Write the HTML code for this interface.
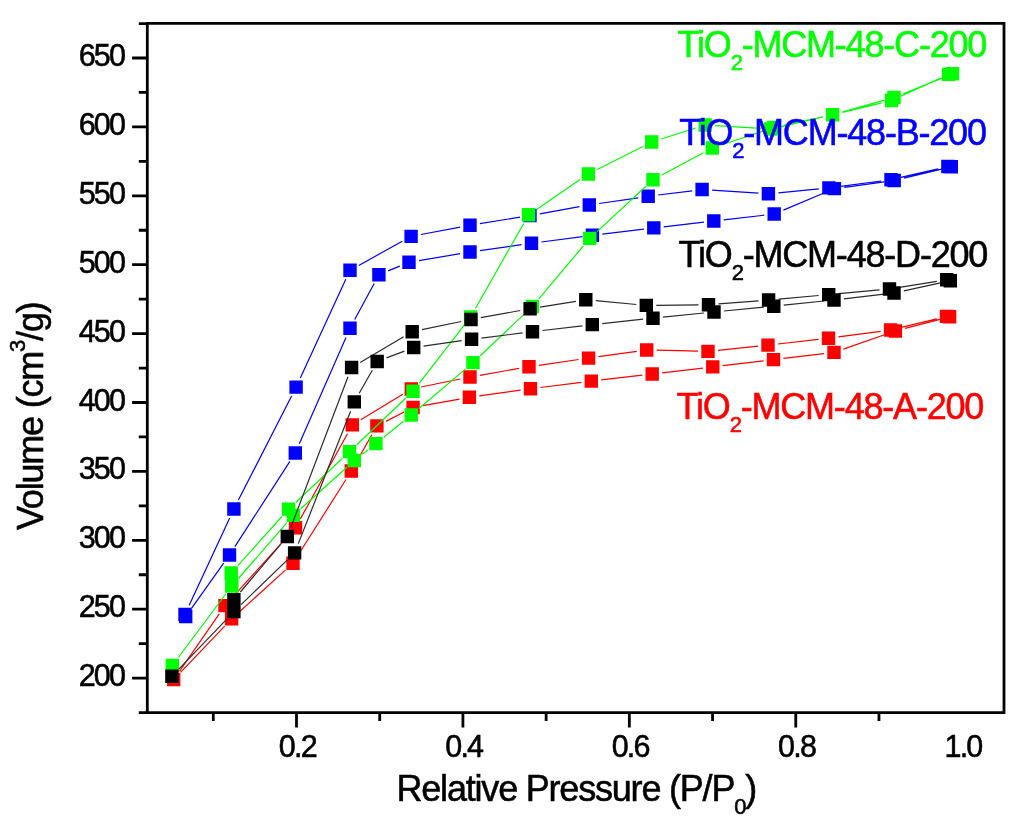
<!DOCTYPE html><html><head><meta charset="utf-8"><style>
html,body{margin:0;padding:0;background:#fff;}
body{width:1024px;height:834px;overflow:hidden;position:relative;}
svg{position:absolute;left:0;top:0;will-change:transform;}
text{font-family:"Liberation Sans",sans-serif;stroke-width:0.55px;paint-order:stroke;}
</style></head><body>
<svg width="1024" height="834" viewBox="0 0 1024 834">
<path d="M191.5 608.4L223.7 563.1M234.9 546.6L289.9 461.4M299.3 443.8L346.0 337.5M354.7 319.5L374.2 283.5M388.1 270.9L399.8 266.1M418.9 260.6L460.1 253.7M479.9 250.6L521.6 244.7M541.4 242.0L582.5 236.6M602.3 234.1L643.9 229.1M663.7 226.8L703.9 222.1M723.7 219.8L764.3 215.2M783.4 210.1L825.2 192.5M844.3 187.3L884.3 181.8M903.9 178.2L941.6 169.1M938.2 168.8L900.7 177.4M881.1 181.0L838.8 186.6M818.9 188.9L778.4 192.8M758.4 193.2L712.1 190.1M692.2 190.8L658.1 195.0M638.3 197.8L599.2 203.5M579.5 206.7L539.8 213.8M520.1 217.1L479.9 223.6M460.2 227.1L420.9 234.5M402.3 241.2L358.8 265.4M345.8 279.3L300.3 378.0M291.6 396.0L238.4 500.1M229.7 518.1L189.2 605.3" stroke="#0000ff" stroke-width="1.20" fill="none" stroke-linecap="butt"/>
<path d="M179.00 609.80h13.40v13.40h-13.40zM222.80 548.30h13.40v13.40h-13.40zM288.60 446.30h13.40v13.40h-13.40zM343.30 321.60h13.40v13.40h-13.40zM372.20 268.00h13.40v13.40h-13.40zM402.30 255.60h13.40v13.40h-13.40zM463.30 245.30h13.40v13.40h-13.40zM524.80 236.60h13.40v13.40h-13.40zM585.70 228.60h13.40v13.40h-13.40zM647.10 221.20h13.40v13.40h-13.40zM707.10 214.30h13.40v13.40h-13.40zM767.50 207.30h13.40v13.40h-13.40zM827.70 181.90h13.40v13.40h-13.40zM887.50 173.80h13.40v13.40h-13.40zM944.60 160.10h13.40v13.40h-13.40zM941.20 159.80h13.40v13.40h-13.40zM884.30 173.00h13.40v13.40h-13.40zM822.20 181.20h13.40v13.40h-13.40zM761.70 187.10h13.40v13.40h-13.40zM695.40 182.80h13.40v13.40h-13.40zM641.50 189.60h13.40v13.40h-13.40zM582.60 198.30h13.40v13.40h-13.40zM523.30 208.80h13.40v13.40h-13.40zM463.30 218.50h13.40v13.40h-13.40zM404.40 229.70h13.40v13.40h-13.40zM343.30 263.50h13.40v13.40h-13.40zM289.40 380.40h13.40v13.40h-13.40zM227.20 502.30h13.40v13.40h-13.40zM178.30 607.70h13.40v13.40h-13.40z" fill="#0000ff"/>
<path d="M180.6 672.3L224.7 626.1M239.0 612.2L285.6 569.9M298.3 554.7L346.0 479.5M356.2 462.3L372.0 434.6M385.8 421.4L404.2 412.0M422.9 405.7L459.6 399.1M479.3 395.9L520.6 390.1M540.4 387.5L581.4 382.3M601.2 379.9L642.3 375.2M662.1 372.8L702.9 368.1M722.7 365.7L763.6 360.8M783.4 358.4L824.1 353.6M843.4 349.1L886.0 334.3M905.1 328.4L939.9 319.3M936.8 318.8L900.3 327.6M880.7 331.3L838.4 336.9M818.6 339.3L777.9 344.0M758.1 346.1L717.9 350.4M698.0 351.2L656.7 350.2M636.8 351.4L598.5 356.7M578.7 359.5L538.9 365.3M519.1 368.4L479.9 375.3M460.2 379.0L421.1 387.0M402.8 394.2L360.8 419.7M347.5 433.7L300.3 518.9M288.8 535.1L231.7 598.2M219.3 613.8L179.4 671.3" stroke="#ff0000" stroke-width="1.20" fill="none" stroke-linecap="butt"/>
<path d="M167.00 672.80h13.40v13.40h-13.40zM224.90 612.20h13.40v13.40h-13.40zM286.30 556.50h13.40v13.40h-13.40zM344.60 464.30h13.40v13.40h-13.40zM370.20 419.20h13.40v13.40h-13.40zM406.40 400.80h13.40v13.40h-13.40zM462.70 390.60h13.40v13.40h-13.40zM523.80 382.00h13.40v13.40h-13.40zM584.60 374.40h13.40v13.40h-13.40zM645.50 367.30h13.40v13.40h-13.40zM706.10 360.20h13.40v13.40h-13.40zM766.80 352.90h13.40v13.40h-13.40zM827.30 345.70h13.40v13.40h-13.40zM888.70 324.30h13.40v13.40h-13.40zM942.90 310.00h13.40v13.40h-13.40zM939.80 309.70h13.40v13.40h-13.40zM883.90 323.30h13.40v13.40h-13.40zM821.80 331.50h13.40v13.40h-13.40zM761.30 338.40h13.40v13.40h-13.40zM701.30 344.70h13.40v13.40h-13.40zM640.00 343.30h13.40v13.40h-13.40zM581.90 351.40h13.40v13.40h-13.40zM522.30 360.00h13.40v13.40h-13.40zM463.30 370.30h13.40v13.40h-13.40zM404.60 382.30h13.40v13.40h-13.40zM345.60 418.20h13.40v13.40h-13.40zM288.80 521.00h13.40v13.40h-13.40zM218.30 598.90h13.40v13.40h-13.40zM167.00 672.80h13.40v13.40h-13.40z" fill="#ff0000"/>
<path d="M178.3 657.5L225.8 594.0M238.4 578.5L286.8 522.9M300.8 508.7L346.9 467.2M362.2 454.3L368.0 449.8M383.7 437.3L403.5 421.3M418.9 408.5L465.4 369.1M480.3 355.7L525.0 313.4M538.8 298.9L583.3 246.0M597.1 231.6L645.7 186.5M661.8 175.0L703.5 152.7M721.8 144.8L764.2 130.7M783.5 125.4L822.8 116.9M842.2 112.1L884.4 100.2M903.3 93.7L943.2 77.6M939.5 78.6L900.6 96.3M881.8 102.9L842.3 112.4M822.9 117.0L780.2 126.8M760.5 128.4L715.2 125.6M695.7 128.0L661.2 139.0M642.8 146.5L597.3 169.5M580.1 179.6L536.9 209.2M523.7 223.5L475.5 308.3M464.5 324.9L419.1 383.4M405.7 398.2L356.8 444.7M342.2 458.5L295.9 502.2M281.9 516.5L237.9 565.6" stroke="#00ff00" stroke-width="1.20" fill="none" stroke-linecap="butt"/>
<path d="M165.60 658.80h13.40v13.40h-13.40zM225.10 579.30h13.40v13.40h-13.40zM286.70 508.70h13.40v13.40h-13.40zM347.60 453.80h13.40v13.40h-13.40zM369.20 436.90h13.40v13.40h-13.40zM404.60 408.30h13.40v13.40h-13.40zM466.30 355.90h13.40v13.40h-13.40zM525.60 299.80h13.40v13.40h-13.40zM583.10 231.70h13.40v13.40h-13.40zM646.30 173.00h13.40v13.40h-13.40zM705.60 141.30h13.40v13.40h-13.40zM767.00 120.80h13.40v13.40h-13.40zM825.90 108.10h13.40v13.40h-13.40zM887.30 90.80h13.40v13.40h-13.40zM945.80 67.10h13.40v13.40h-13.40zM941.90 67.70h13.40v13.40h-13.40zM884.80 93.80h13.40v13.40h-13.40zM825.90 108.10h13.40v13.40h-13.40zM763.80 122.30h13.40v13.40h-13.40zM698.50 118.30h13.40v13.40h-13.40zM645.00 135.30h13.40v13.40h-13.40zM581.70 167.30h13.40v13.40h-13.40zM521.90 208.10h13.40v13.40h-13.40zM463.90 310.30h13.40v13.40h-13.40zM406.30 384.60h13.40v13.40h-13.40zM342.80 444.90h13.40v13.40h-13.40zM281.90 502.40h13.40v13.40h-13.40zM224.50 566.30h13.40v13.40h-13.40z" fill="#00ff00"/>
<path d="M178.8 669.1L227.0 618.8M241.1 604.6L287.4 559.9M298.3 543.6L350.6 411.2M359.2 393.2L372.3 370.2M386.5 357.9L404.4 351.1M423.6 346.1L461.7 340.7M481.5 338.1L522.6 332.9M542.4 330.5L582.4 325.8M602.2 323.6L643.1 319.2M662.9 317.2L704.1 313.0M724.0 311.0L763.8 307.2M783.7 305.2L824.1 301.0M843.9 298.8L884.1 294.2M903.8 290.9L940.5 282.8M936.8 281.4L899.4 287.4M879.5 289.9L838.7 293.7M818.7 295.5L778.6 299.1M758.6 300.8L718.5 303.9M698.5 304.8L656.3 305.3M636.3 304.5L595.8 300.6M575.9 301.3L540.0 307.1M520.3 310.5L480.8 317.7M461.2 321.5L422.0 329.7M403.6 336.8L360.2 362.4M348.0 376.8L290.9 527.2M280.8 544.1L240.4 592.0" stroke="#2b2b2b" stroke-width="1.20" fill="none" stroke-linecap="butt"/>
<path d="M165.20 669.60h13.40v13.40h-13.40zM227.20 604.90h13.40v13.40h-13.40zM287.90 546.20h13.40v13.40h-13.40zM347.60 395.20h13.40v13.40h-13.40zM370.50 354.80h13.40v13.40h-13.40zM407.00 340.80h13.40v13.40h-13.40zM464.90 332.60h13.40v13.40h-13.40zM525.80 325.00h13.40v13.40h-13.40zM585.60 317.90h13.40v13.40h-13.40zM646.30 311.50h13.40v13.40h-13.40zM707.30 305.30h13.40v13.40h-13.40zM767.10 299.50h13.40v13.40h-13.40zM827.30 293.30h13.40v13.40h-13.40zM887.30 286.30h13.40v13.40h-13.40zM943.60 274.00h13.40v13.40h-13.40zM940.00 273.10h13.40v13.40h-13.40zM882.80 282.30h13.40v13.40h-13.40zM822.00 287.90h13.40v13.40h-13.40zM761.90 293.30h13.40v13.40h-13.40zM701.80 298.00h13.40v13.40h-13.40zM639.60 298.70h13.40v13.40h-13.40zM579.10 293.00h13.40v13.40h-13.40zM523.40 302.00h13.40v13.40h-13.40zM464.30 312.80h13.40v13.40h-13.40zM405.50 325.00h13.40v13.40h-13.40zM344.90 360.80h13.40v13.40h-13.40zM280.60 529.80h13.40v13.40h-13.40zM227.20 592.90h13.40v13.40h-13.40z" fill="#000000"/>
<g stroke="#000" stroke-width="2.80" fill="none" stroke-linecap="square">
<path d="M147.30 23.30H1004.00V712.60H147.30Z"/>
<path d="M132.10 678.10H147.30M132.10 609.20H147.30M132.10 540.30H147.30M132.10 471.40H147.30M132.10 402.50H147.30M132.10 333.60H147.30M132.10 264.70H147.30M132.10 195.80H147.30M132.10 126.90H147.30M132.10 58.00H147.30M138.80 712.55H147.30M138.80 643.65H147.30M138.80 574.75H147.30M138.80 505.85H147.30M138.80 436.95H147.30M138.80 368.05H147.30M138.80 299.15H147.30M138.80 230.25H147.30M138.80 161.35H147.30M138.80 92.45H147.30M138.80 23.55H147.30M213.29 712.60V720.90M296.50 712.60V727.60M379.71 712.60V720.90M462.92 712.60V727.60M546.13 712.60V720.90M629.34 712.60V727.60M712.55 712.60V720.90M795.76 712.60V727.60M878.97 712.60V720.90" stroke-linecap="butt"/>
</g>
<g font-size="30.5" fill="#000" stroke="#000" letter-spacing="-1.8">
<text x="124.2" y="686.10" text-anchor="end">200</text>
<text x="124.2" y="617.20" text-anchor="end">250</text>
<text x="124.2" y="548.30" text-anchor="end">300</text>
<text x="124.2" y="479.40" text-anchor="end">350</text>
<text x="124.2" y="410.50" text-anchor="end">400</text>
<text x="124.2" y="341.60" text-anchor="end">450</text>
<text x="124.2" y="272.70" text-anchor="end">500</text>
<text x="124.2" y="203.80" text-anchor="end">550</text>
<text x="124.2" y="134.90" text-anchor="end">600</text>
<text x="124.2" y="66.00" text-anchor="end">650</text>
<text x="297.30" y="756.8" text-anchor="middle">0.2</text>
<text x="463.72" y="756.8" text-anchor="middle">0.4</text>
<text x="630.14" y="756.8" text-anchor="middle">0.6</text>
<text x="796.56" y="756.8" text-anchor="middle">0.8</text>
<text x="962.98" y="756.8" text-anchor="middle">1.0</text>
</g>
<text x="396.5" y="800.8" font-size="36" fill="#000" stroke="#000" letter-spacing="-1.2">Relative Pressure (P/P<tspan font-size="22" dy="13">0</tspan><tspan dy="-13">)</tspan></text>
<text transform="translate(43.3,530) rotate(-90)" font-size="36" fill="#000" stroke="#000" letter-spacing="-1.2">Volume (cm<tspan font-size="22" dy="-18">3</tspan><tspan dy="18">/g)</tspan></text>
<text x="677.6" y="56.9" font-size="36" fill="#00ff00" stroke="#00ff00" letter-spacing="-1.2">TiO<tspan font-size="22" dy="13">2</tspan><tspan dy="-13">-MCM-48-C-200</tspan></text>
<text x="679.2" y="144.6" font-size="36" fill="#0000ff" stroke="#0000ff" letter-spacing="-1.2">TiO<tspan font-size="22" dy="13">2</tspan><tspan dy="-13">-MCM-48-B-200</tspan></text>
<text x="678.6" y="266.5" font-size="36" fill="#000000" stroke="#000000" letter-spacing="-1.2">TiO<tspan font-size="22" dy="13">2</tspan><tspan dy="-13">-MCM-48-D-200</tspan></text>
<text x="676.6" y="418.7" font-size="36" fill="#ff0000" stroke="#ff0000" letter-spacing="-1.2">TiO<tspan font-size="22" dy="13">2</tspan><tspan dy="-13">-MCM-48-A-200</tspan></text>
</svg></body></html>
